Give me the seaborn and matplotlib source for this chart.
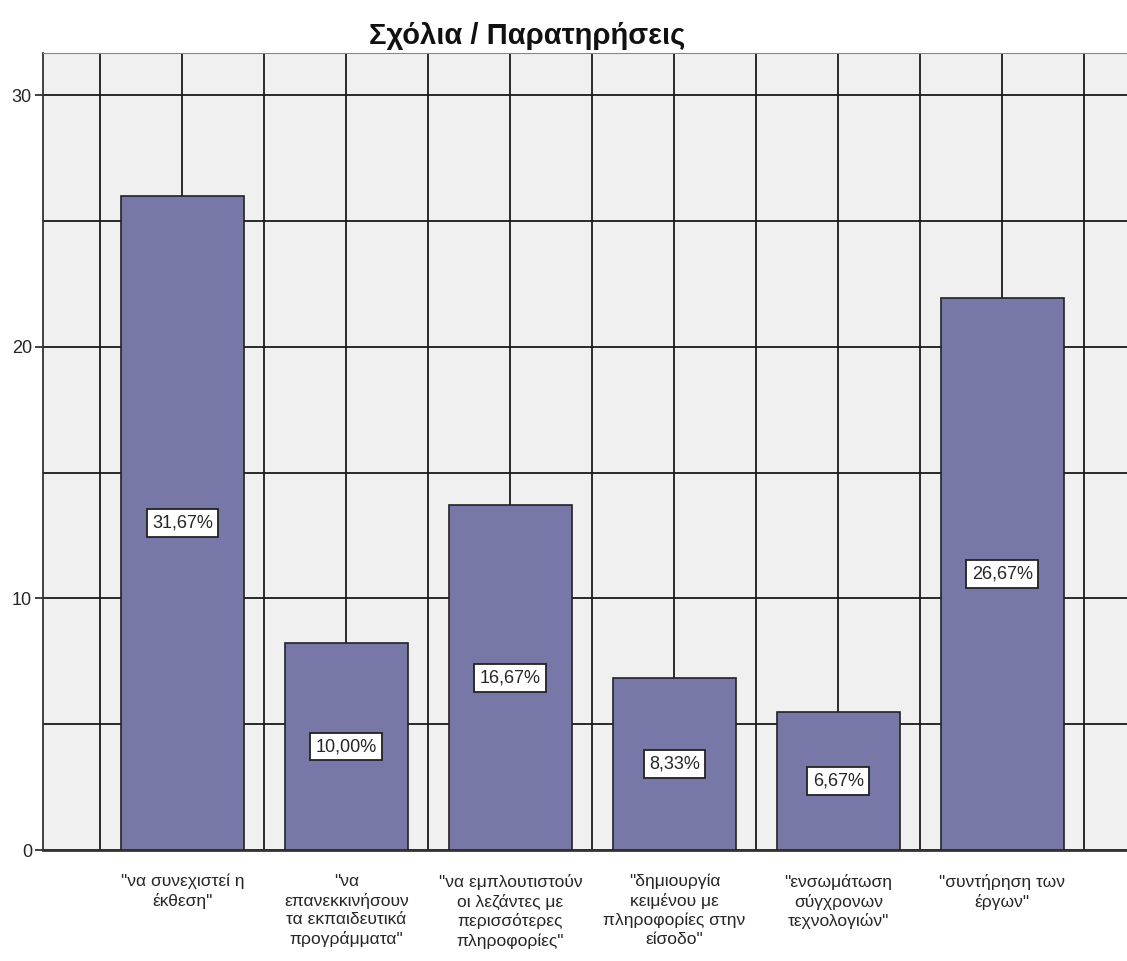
import numpy as np
import pandas as pd
import matplotlib
matplotlib.use("Agg")
import matplotlib.pyplot as plt
import seaborn as sns
from matplotlib.ticker import MultipleLocator, FixedLocator

categories = [
    '"να συνεχιστεί η\nέκθεση"',
    '"να\nεπανεκκινήσουν\nτα εκπαιδευτικά\nπρογράμματα"',
    '"να εμπλουτιστούν\nοι λεζάντες με\nπερισσότερες\nπληροφορίες"',
    '"δημιουργία\nκειμένου με\nπληροφορίες στην\nείσοδο"',
    '"ενσωμάτωση\nσύγχρονων\nτεχνολογιών"',
    '"συντήρηση των\nέργων"',
]
heights = [26.0, 8.22, 13.7, 6.85, 5.48, 21.93]
pct_labels = ["31,67%", "10,00%", "16,67%", "8,33%", "6,67%", "26,67%"]

df = pd.DataFrame({"category": categories, "value": heights})

sns.set_style("white")
plt.rcParams["font.family"] = ["Liberation Sans", "DejaVu Sans"]

fig = plt.figure(figsize=(11.27, 9.61), dpi=100)
ax = fig.add_axes([0.0382, 0.1155, 0.9618, 0.8293])
ax.set_facecolor("#f0f0f0")

sns.barplot(
    data=df,
    x="category",
    y="value",
    color="#7878a8",
    saturation=1,
    width=0.75,
    edgecolor="#222222",
    linewidth=1.2,
    ax=ax,
    zorder=3,
)

# grid: category centres + midpoints, every 5 units on y
ax.set_xlim(-0.85, 5.76)
ax.set_ylim(0, 31.67)
ax.xaxis.set_minor_locator(FixedLocator(np.arange(-0.5, 6.0, 1.0)))
ax.yaxis.set_major_locator(MultipleLocator(10))
ax.yaxis.set_minor_locator(MultipleLocator(5))
ax.grid(True, which="both", color="#1a1a1a", linewidth=1.3, zorder=0)
ax.set_axisbelow(True)

for i, (h, lab) in enumerate(zip(heights, pct_labels)):
    ax.text(i, h / 2, lab, ha="center", va="center", fontsize=13, zorder=5,
            bbox=dict(boxstyle="square,pad=0.3", facecolor="white",
                      edgecolor="#222222", linewidth=1.3))

ax.set_xlabel("")
ax.set_ylabel("")
ax.tick_params(axis="x", which="major", length=10, width=1.3, color="#333333",
               labelsize=12.5, pad=7)
ax.tick_params(axis="x", which="minor", length=0)
ax.tick_params(axis="y", which="major", length=6, width=1.3, color="#333333",
               labelsize=13, pad=2, left=True)
ax.tick_params(axis="y", which="minor", length=0)
for t in ax.get_xticklabels():
    t.set_linespacing(1.3)

ax.spines["right"].set_visible(False)
ax.spines["top"].set_color("#888888")
ax.spines["left"].set_color("#333333")
ax.spines["left"].set_linewidth(1.3)
ax.spines["bottom"].set_color("#333333")
ax.spines["bottom"].set_linewidth(2)

fig.text(0.468, 0.963, "Σχόλια / Παρατηρήσεις", ha="center", va="center",
         fontsize=21, fontweight="bold", color="#111111")

plt.savefig("out.png", dpi=100)
